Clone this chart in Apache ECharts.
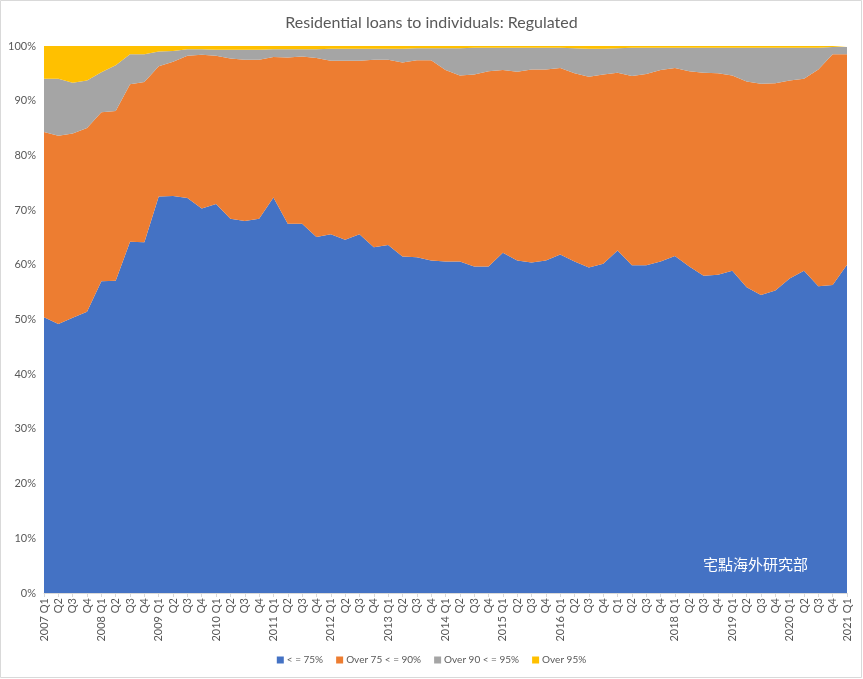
<!DOCTYPE html>
<html>
<head>
<meta charset="utf-8">
<script src="https://cdn.jsdelivr.net/npm/echarts@6/dist/echarts.min.js"></script>
<style>html,body{margin:0;padding:0;background:#fff;}#c{width:863px;height:679px;}</style>
</head>
<body>
<div id="c"></div>
<script>
const categories = ["2007 Q1","Q2","Q3","Q4","2008 Q1","Q2","Q3","Q4","2009 Q1","Q2","Q3","Q4","2010 Q1","Q2","Q3","Q4","2011 Q1","Q2","Q3","Q4","2012 Q1","Q2","Q3","Q4","2013 Q1","Q2","Q3","Q4","2014 Q1","Q2","Q3","Q4","2015 Q1","Q2","Q3","Q4","2016 Q1","Q2","Q3","Q4","Q1","Q2","Q3","Q4","2018 Q1","Q2","Q3","Q4","2019 Q1","Q2","Q3","Q4","2020 Q1","Q2","Q3","Q4","2021 Q1"];
const seriesNames = ["< = 75%","Over 75 < = 90%","Over 90 < = 95%","Over 95%"];
const le75 = [50.4,49.2,50.3,51.4,57.0,57.1,64.2,64.1,72.5,72.6,72.2,70.3,71.1,68.4,68.0,68.4,72.3,67.5,67.5,65.1,65.6,64.6,65.6,63.2,63.6,61.5,61.4,60.8,60.6,60.6,59.7,59.7,62.2,60.8,60.4,60.8,61.9,60.6,59.5,60.2,62.6,59.9,59.9,60.6,61.6,59.7,58.0,58.2,58.9,55.9,54.5,55.3,57.5,58.9,56.1,56.3,60.0];
const o75to90 = [33.9,34.4,33.7,33.6,30.9,31.0,28.8,29.3,23.8,24.5,26.0,28.1,27.1,29.3,29.5,29.1,25.7,30.4,30.6,32.7,31.7,32.7,31.7,34.3,33.9,35.5,36.0,36.6,35.0,34.0,35.1,35.7,33.4,34.5,35.3,34.9,34.1,34.4,34.9,34.6,32.5,34.6,35.0,35.0,34.4,35.7,37.1,36.8,35.7,37.6,38.6,37.9,36.2,35.1,39.6,42.2,38.5];
const o90to95 = [9.7,10.4,9.3,8.7,7.3,8.4,5.5,5.1,2.7,2.0,1.2,1.0,1.1,1.6,1.8,1.8,1.4,1.5,1.3,1.6,2.2,2.2,2.2,2.0,2.0,2.5,2.2,2.2,4.0,5.0,4.9,4.3,4.1,4.4,4.0,4.0,3.7,4.6,5.1,4.7,4.5,5.2,4.8,4.1,3.7,4.3,4.6,4.7,5.1,6.2,6.6,6.5,6.0,5.7,4.0,1.3,1.3];
const over95 = [6.0,6.0,6.7,6.3,4.8,3.5,1.5,1.5,1.0,0.9,0.6,0.6,0.7,0.7,0.7,0.7,0.6,0.6,0.6,0.6,0.5,0.5,0.5,0.5,0.5,0.5,0.4,0.4,0.4,0.4,0.3,0.3,0.3,0.3,0.3,0.3,0.3,0.4,0.5,0.5,0.4,0.3,0.3,0.3,0.3,0.3,0.3,0.3,0.3,0.3,0.3,0.3,0.3,0.3,0.3,0.2,0.2];
const yTicks = [0,10,20,30,40,50,60,70,80,90,100];

const colors = ['#4472C4','#ED7D31','#A5A5A5','#FFC000'];
const dataSets = [le75,o75to90,o90to95,over95];
const chart = echarts.init(document.getElementById('c'), null, {renderer:'canvas'});
const txt = '#595959';
const font = 'Lato, "Liberation Sans", sans-serif';
chart.setOption({
  animation:false,
  backgroundColor:'#fff',
  title:{text:'Residential loans to individuals: Regulated',left:'center',top:10,
    textStyle:{fontFamily:font,fontSize:16,fontWeight:'normal',color:txt}},
  grid:{left:44,right:16,top:46,bottom:86},
  legend:{bottom:9,left:'center',icon:'rect',itemWidth:7,itemHeight:7,itemGap:13,
    textStyle:{fontFamily:font,fontSize:10,color:txt,padding:[0,0,0,-2]},data:seriesNames},
  xAxis:{type:'category',data:categories,boundaryGap:false,
    axisLine:{show:true,lineStyle:{color:'#d9d9d9'}},
    axisTick:{show:true,length:4,interval:0,lineStyle:{color:'#d9d9d9'}},
    axisLabel:{interval:0,rotate:90,fontFamily:font,fontSize:11,color:txt,margin:5}},
  yAxis:{type:'value',min:yTicks[0],max:yTicks[yTicks.length-1],interval:10,
    axisLine:{show:false},axisTick:{show:false},splitLine:{show:false},
    axisLabel:{formatter:'{value}%',fontFamily:font,fontSize:11,color:txt,margin:8}},
  series:dataSets.map((d,i)=>({
    name:seriesNames[i],type:'line',stack:'total',data:d,symbol:'none',
    lineStyle:{width:0},itemStyle:{color:colors[i]},
    areaStyle:{color:colors[i],opacity:1}
  })),
  graphic:[
    {type:'rect',shape:{x:0.5,y:0.5,width:861,height:677},style:{fill:'none',stroke:'#d9d9d9',lineWidth:1},silent:true},
    {type:'text',left:703,top:557,z:100,style:{text:'宅點海外研究部',fill:'#ffffff',font:'15px "Noto Sans CJK TC", sans-serif'}}
  ]
});
</script>
</body>
</html>
